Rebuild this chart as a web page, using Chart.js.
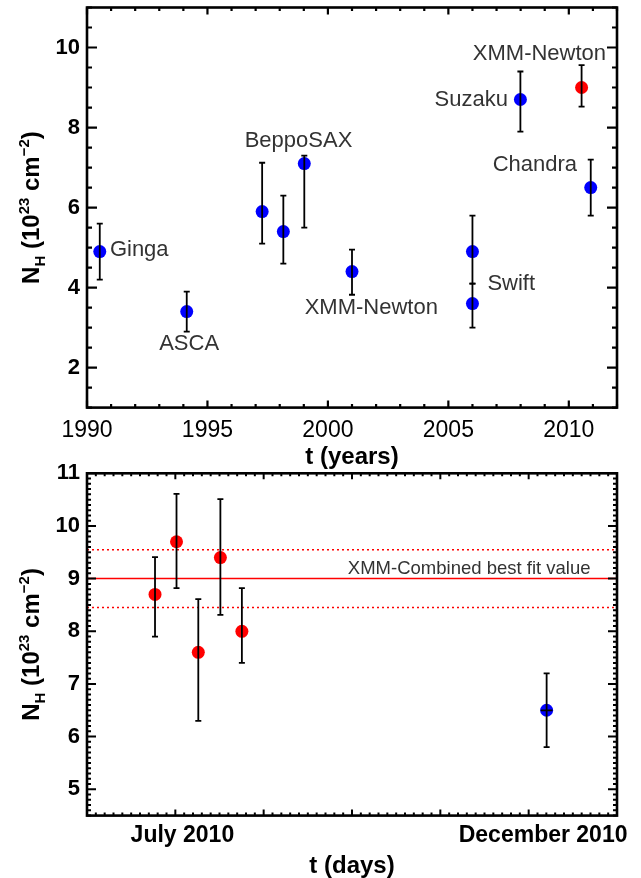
<!DOCTYPE html>
<html>
<head>
<meta charset="utf-8">
<script src="https://cdn.jsdelivr.net/npm/chart.js@4.4.0/dist/chart.umd.min.js"></script>
<style>
  html, body { margin: 0; padding: 0; background: #fff; }
  #wrap { position: relative; width: 641px; height: 878px; }
  canvas { position: absolute; left: 0; }
  #yearsChart { top: 0; }
  #daysChart { top: 440px; }
</style>
</head>
<body>
<div id="wrap">
  <canvas id="yearsChart" width="641" height="472"></canvas>
  <canvas id="daysChart" width="641" height="438"></canvas>
</div>
<script>
const FONT = '"Liberation Sans", Arial, Helvetica, sans-serif';

// Top panel: N_H from the different missions (years)
const missionYears = [1990.53, 1994.14, 1997.27, 1998.15, 1999.02, 2001.0, 2006.0, 2006.0, 2007.99, 2010.91];
const missionNH = [4.9, 3.4, 5.9, 5.4, 7.1, 4.4, 4.9, 3.6, 8.7, 6.5];
const missionNHLow = [4.2, 2.9, 5.1, 4.6, 5.5, 3.82, 4.1, 3.0, 7.9, 5.8];
const missionNHHigh = [5.6, 3.9, 7.12, 6.3, 7.3, 4.95, 5.8, 4.1, 9.4, 7.2];

const xmmYear = [2010.53];
const xmmNH = [9.0];
const xmmNHLow = [8.52];
const xmmNHHigh = [9.56];

const yearTicks = [1990, 1995, 2000, 2005, 2010];
const nhTicksTop = [2, 4, 6, 8, 10];

const missionLabels = ['Ginga', 'ASCA', 'BeppoSAX', 'XMM-Newton', 'Swift', 'Suzaku', 'XMM-Newton', 'Chandra'];
const missionLabelYear = [1990.95, 1994.24, 1998.78, 2001.8, 2007.61, 2007.47, 2008.78, 2008.59];
const missionLabelNH = [4.95, 2.58, 7.67, 3.48, 4.08, 8.69, 9.85, 7.07];
const missionLabelAlign = ['left', 'center', 'center', 'center', 'center', 'right', 'center', 'center'];

// Bottom panel: 2010 monitoring (days)
const xmmDays = [23.1, 30.4, 37.8, 45.3, 52.6];
const xmmDayNH = [8.7, 9.7, 7.6, 9.4, 8.0];
const xmmDayLow = [7.9, 8.82, 6.3, 8.31, 7.4];
const xmmDayHigh = [9.41, 10.61, 8.61, 10.51, 8.82];

const chandraDays = [156.1];
const chandraNH = [6.5];
const chandraLow = [5.8];
const chandraHigh = [7.2];
const chandraDayErr = [2];

const bestFitNH = 9.0;
const bestFitLow = 8.45;
const bestFitHigh = 9.55;

const dayRange = [0, 180];
const dayTickValues = [32.4, 154.9];
const dayTickLabels = ['July 2010', 'December 2010'];
const nhTicksBottom = [5, 6, 7, 8, 9, 10, 11];

// IDL style box with inward ticks on all four sides
const idlFrame = {
    id: 'idlFrame',
    afterDraw(chart, args, o) {
        const { ctx, chartArea: a, scales: { x, y } } = chart;
        ctx.save();
        ctx.strokeStyle = '#000';
        ctx.lineCap = 'butt';

        const walk = (min, max, minor, origin, major, fn) => {
            const n = Math.round((max - min) / minor);
            for (let i = 0; i <= n; i++) {
                const v = min + i * minor;
                const k = (v - origin) / major;
                fn(v, Math.abs(k - Math.round(k)) < 1e-6);
            }
        };

        ctx.lineWidth = o.tickWidth;
        ctx.beginPath();
        walk(x.min, x.max, o.xMinor, o.xOrigin, o.xMajor, (v, isMajor) => {
            const px = x.getPixelForValue(v);
            const len = isMajor ? o.xMajorLen : o.xMinorLen;
            ctx.moveTo(px, a.bottom); ctx.lineTo(px, a.bottom - len);
            ctx.moveTo(px, a.top); ctx.lineTo(px, a.top + len);
        });
        walk(y.min, y.max, o.yMinor, o.yOrigin, o.yMajor, (v, isMajor) => {
            const py = y.getPixelForValue(v);
            const len = isMajor ? o.yMajorLen : o.yMinorLen;
            ctx.moveTo(a.left, py); ctx.lineTo(a.left + len, py);
            ctx.moveTo(a.right, py); ctx.lineTo(a.right - len, py);
        });
        ctx.stroke();

        ctx.lineWidth = o.borderWidth;
        ctx.strokeRect(a.left, a.top, a.right - a.left, a.bottom - a.top);
        ctx.restore();
    }
};

// vertical error bars (drawn over the dots, like the original)
const errorBars = {
    id: 'errorBars',
    afterDatasetsDraw(chart) {
        const { ctx, scales: { x, y } } = chart;
        ctx.save();
        ctx.strokeStyle = '#000';
        ctx.lineWidth = 1.8;
        chart.data.datasets.forEach(ds => {
            if (!ds.errLow) return;
            ds.data.forEach((p, i) => {
                const px = x.getPixelForValue(p.x);
                const lo = y.getPixelForValue(ds.errLow[i]);
                const hi = y.getPixelForValue(ds.errHigh[i]);
                ctx.beginPath();
                ctx.moveTo(px, lo); ctx.lineTo(px, hi);
                ctx.moveTo(px - 3, lo); ctx.lineTo(px + 3, lo);
                ctx.moveTo(px - 3, hi); ctx.lineTo(px + 3, hi);
                if (ds.xErr) {
                    const py = y.getPixelForValue(p.y);
                    ctx.moveTo(x.getPixelForValue(p.x - ds.xErr[i]), py);
                    ctx.lineTo(x.getPixelForValue(p.x + ds.xErr[i]), py);
                }
                ctx.stroke();
            });
        });
        ctx.restore();
    }
};

// free text placed at data coordinates
const textLabels = {
    id: 'textLabels',
    afterDatasetsDraw(chart, args, o) {
        const { ctx, scales: { x, y } } = chart;
        ctx.save();
        ctx.fillStyle = o.color;
        ctx.font = `${o.size}px ${FONT}`;
        ctx.textBaseline = 'middle';
        o.texts.forEach((t, i) => {
            ctx.textAlign = o.aligns[i];
            ctx.fillText(t, x.getPixelForValue(o.xs[i]), y.getPixelForValue(o.ys[i]));
        });
        ctx.restore();
    }
};

// N_H (10^23 cm^-2) with real sub/superscripts
const yTitle = {
    id: 'yTitle',
    afterDraw(chart, args, o) {
        const { ctx, chartArea: a } = chart;
        const parts = [
            ['N', 0, 24], ['H', 6, 15], [' (10', 0, 24], ['23', -10, 15],
            [' cm', 0, 24], ['\u22122', -10, 15], [')', 0, 24]
        ];
        ctx.save();
        ctx.fillStyle = '#000';
        ctx.textBaseline = 'alphabetic';
        ctx.textAlign = 'left';
        let total = 0;
        parts.forEach(p => {
            ctx.font = `bold ${p[2]}px ${FONT}`;
            p.push(ctx.measureText(p[0]).width);
            total += p[3];
        });
        ctx.translate(o.x, (a.top + a.bottom) / 2);
        ctx.rotate(-Math.PI / 2);
        let cx = -total / 2;
        parts.forEach(p => {
            ctx.font = `bold ${p[2]}px ${FONT}`;
            ctx.fillText(p[0], cx, p[1]);
            cx += p[3];
        });
        ctx.restore();
    }
};

const toXY = (xs, ys) => xs.map((v, i) => ({ x: v, y: ys[i] }));

function pointSet(xs, ys, low, high, color, extra) {
    return Object.assign({
        data: toXY(xs, ys),
        backgroundColor: color,
        borderWidth: 0,
        pointRadius: 6.5,
        pointBorderWidth: 0,
        pointHoverRadius: 6.5,
        errLow: low,
        errHigh: high
    }, extra || {});
}

// y axis: fixed width, no extra padding for the end labels
const fixYAxis = s => {
    s.width = 87;
    s.paddingTop = 0;
    s.paddingBottom = 0;
};

// Top chart
new Chart(document.getElementById('yearsChart'), {
    type: 'scatter',
    data: {
        datasets: [
            pointSet(missionYears, missionNH, missionNHLow, missionNHHigh, '#0000ff'),
            pointSet(xmmYear, xmmNH, xmmNHLow, xmmNHHigh, '#ff0000')
        ]
    },
    options: {
        responsive: false,
        animation: false,
        layout: { padding: { top: 7.5, right: 24, left: 0, bottom: 0 } },
        plugins: {
            legend: { display: false },
            tooltip: { enabled: false },
            idlFrame: {
                tickWidth: 2.2, borderWidth: 2.6,
                xMinor: 1, xMajor: 5, xOrigin: 1990, xMajorLen: 7, xMinorLen: 3.5,
                yMinor: 0.5, yMajor: 2, yOrigin: 0, yMajorLen: 10, yMinorLen: 5
            },
            textLabels: {
                texts: missionLabels, xs: missionLabelYear, ys: missionLabelNH,
                aligns: missionLabelAlign, size: 22, color: '#333'
            },
            yTitle: { x: 38.5 }
        },
        scales: {
            x: {
                type: 'linear', min: 1990, max: 2012,
                afterBuildTicks: s => { s.ticks = yearTicks.map(v => ({ value: v })); },
                afterFit: s => { s.height = 64.4; },
                grid: { display: false, drawTicks: false },
                border: { display: false },
                ticks: {
                    color: '#000', padding: 9, maxRotation: 0, autoSkip: false,
                    font: { family: FONT, size: 23 },
                    callback: v => String(v)
                },
                title: {
                    display: true, text: 't (years)', color: '#000',
                    font: { family: FONT, size: 24, weight: 'bold', lineHeight: 1 },
                    padding: { top: 0, bottom: 3 }
                }
            },
            y: {
                min: 1, max: 11,
                afterBuildTicks: s => { s.ticks = nhTicksTop.map(v => ({ value: v })); },
                afterFit: fixYAxis,
                grid: { display: false, drawTicks: false },
                border: { display: false },
                ticks: {
                    color: '#000', padding: 7,
                    font: { family: FONT, size: 22, weight: 'bold' }
                }
            }
        }
    },
    plugins: [idlFrame, errorBars, textLabels, yTitle]
});

// Bottom chart
new Chart(document.getElementById('daysChart'), {
    type: 'scatter',
    data: {
        datasets: [
            pointSet(xmmDays, xmmDayNH, xmmDayLow, xmmDayHigh, '#ff0000'),
            pointSet(chandraDays, chandraNH, chandraLow, chandraHigh, '#0000ff', { xErr: chandraDayErr }),
            {
                type: 'line', data: toXY(dayRange, [bestFitNH, bestFitNH]),
                borderColor: '#ff0000', borderWidth: 1.5, pointRadius: 0
            },
            {
                type: 'line', data: toXY(dayRange, [bestFitHigh, bestFitHigh]),
                borderColor: '#ff0000', borderWidth: 1.5, borderDash: [2, 3], pointRadius: 0
            },
            {
                type: 'line', data: toXY(dayRange, [bestFitLow, bestFitLow]),
                borderColor: '#ff0000', borderWidth: 1.5, borderDash: [2, 3], pointRadius: 0
            }
        ]
    },
    options: {
        responsive: false,
        animation: false,
        layout: { padding: { top: 33.3, right: 24, left: 0, bottom: 0 } },
        plugins: {
            legend: { display: false },
            tooltip: { enabled: false },
            idlFrame: {
                tickWidth: 2, borderWidth: 2.6,
                xMinor: 3, xMajor: 30, xOrigin: 0, xMajorLen: 6, xMinorLen: 3,
                yMinor: 0.1, yMajor: 1, yOrigin: 5, yMajorLen: 9, yMinorLen: 4
            },
            textLabels: {
                texts: ['XMM-Combined best fit value'], xs: [129.8], ys: [9.19],
                aligns: ['center'], size: 18.5, color: '#333'
            },
            yTitle: { x: 38.5 }
        },
        scales: {
            x: {
                type: 'linear', min: dayRange[0], max: dayRange[1],
                afterBuildTicks: s => { s.ticks = dayTickValues.map(v => ({ value: v })); },
                afterFit: s => { s.height = 62.4; },
                grid: { display: false, drawTicks: false },
                border: { display: false },
                ticks: {
                    color: '#000', padding: 6, maxRotation: 0, autoSkip: false,
                    font: { family: FONT, size: 23, weight: 'bold' },
                    callback: (v, i) => dayTickLabels[i]
                },
                title: {
                    display: true, text: 't (days)', color: '#000',
                    font: { family: FONT, size: 24, weight: 'bold', lineHeight: 1 },
                    padding: { top: 0, bottom: 0 }
                }
            },
            y: {
                min: 4.5, max: 11,
                afterBuildTicks: s => { s.ticks = nhTicksBottom.map(v => ({ value: v })); },
                afterFit: fixYAxis,
                grid: { display: false, drawTicks: false },
                border: { display: false },
                ticks: {
                    color: '#000', padding: 7,
                    font: { family: FONT, size: 22, weight: 'bold' }
                }
            }
        }
    },
    plugins: [idlFrame, errorBars, textLabels, yTitle]
});
</script>
</body>
</html>
